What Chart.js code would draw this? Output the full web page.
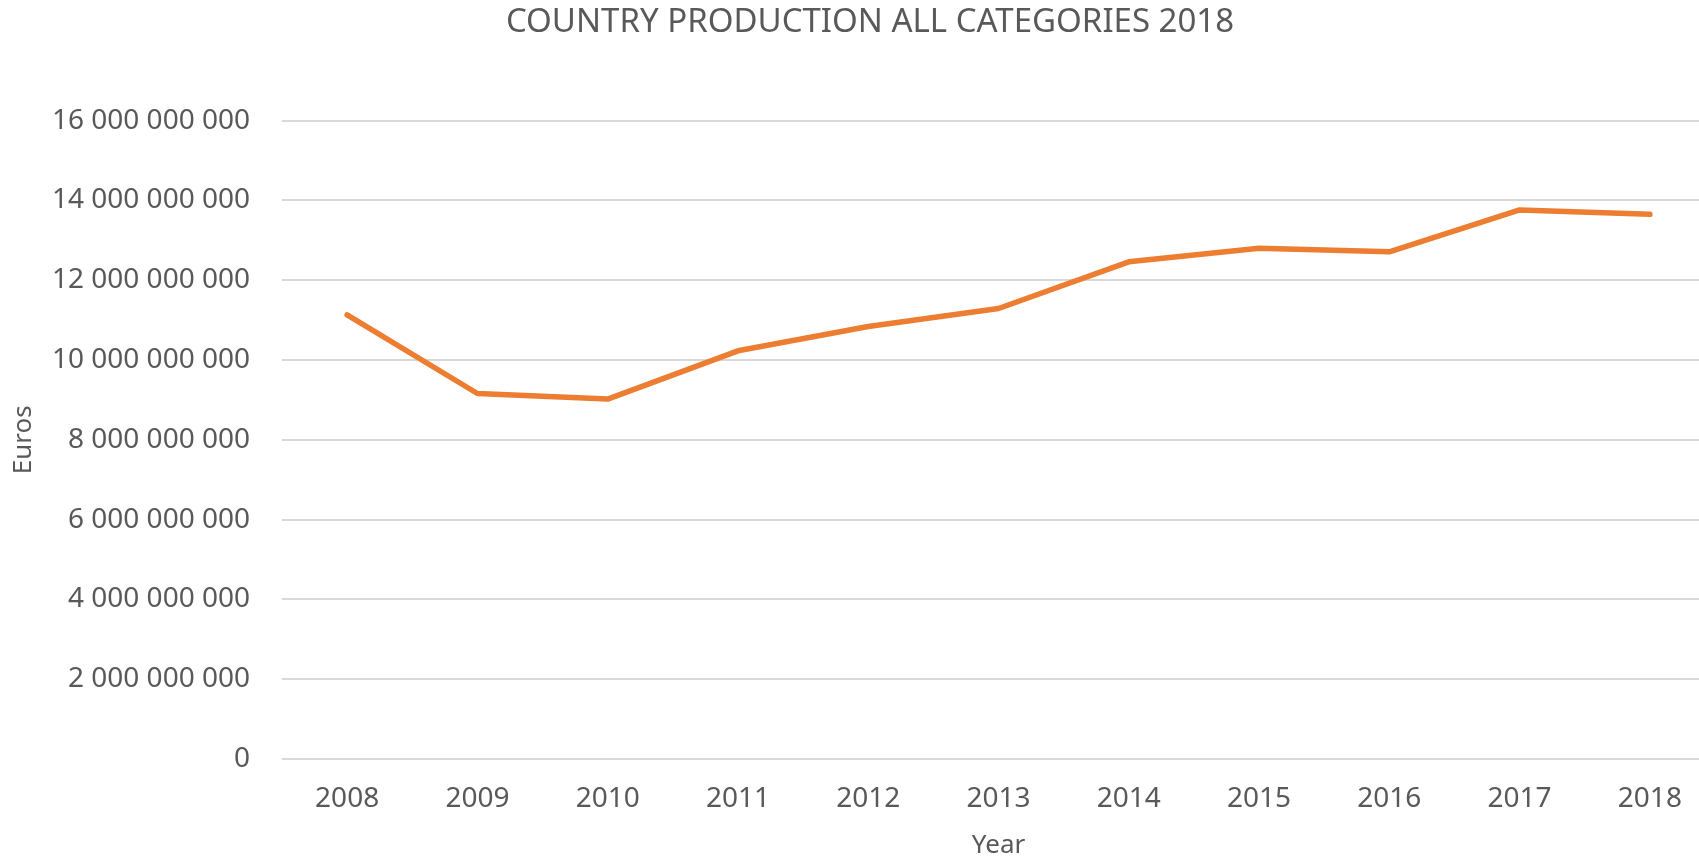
<!DOCTYPE html>
<html>
<head>
<meta charset="utf-8">
<script src="https://cdn.jsdelivr.net/npm/chart.js@4"></script>
<style>
  html, body { margin: 0; padding: 0; background: #fff; overflow: hidden; }
  #wrap { width: 1740px; height: 861px; }
</style>
</head>
<body>
<div id="wrap"><canvas id="prodChart" width="1740" height="861"></canvas></div>
<script>
const years = ['2008', '2009', '2010', '2011', '2012', '2013', '2014', '2015', '2016', '2017', '2018'];
const production = [11130000000, 9160000000, 9020000000, 10230000000, 10840000000, 11290000000,
    12460000000, 12800000000, 12710000000, 13760000000, 13650000000];
const yTicks = [0, 2000000000, 4000000000, 6000000000, 8000000000, 10000000000,
    12000000000, 14000000000, 16000000000];

const textColor = '#595959';
const gridColor = '#d9d9d9';

function spaced(v) {
    return String(v).replace(/\B(?=(\d{3})+(?!\d))/g, ' ');
}

const ctx = document.getElementById('prodChart').getContext('2d');
new Chart(ctx, {
    type: 'line',
    data: {
        labels: years,
        datasets: [{
            label: 'Production',
            data: production,
            borderColor: '#ed7d31',
            borderWidth: 5.5,
            borderCapStyle: 'round',
            borderJoinStyle: 'round',
            pointRadius: 0,
            fill: false,
            tension: 0
        }]
    },
    options: {
        responsive: false,
        animation: false,
        layout: { padding: 0 },
        plugins: {
            legend: { display: false },
            tooltip: { enabled: false },
            title: {
                display: true,
                text: 'COUNTRY PRODUCTION ALL CATEGORIES 2018',
                color: textColor,
                font: { family: 'Noto Sans', size: 33, weight: 'normal' },
                padding: { top: 3, bottom: 78 }
            }
        },
        scales: {
            x: {
                offset: true,
                grid: { display: false, drawTicks: false },
                border: { display: false },
                ticks: {
                    color: textColor,
                    font: { family: 'Noto Sans', size: 28 },
                    padding: 23,
                    maxRotation: 0
                },
                title: {
                    display: true,
                    text: 'Year',
                    color: textColor,
                    font: { family: 'Noto Sans', size: 26 },
                    padding: { top: 0, bottom: 0 }
                },
                afterFit: scale => { scale.height = 102; }
            },
            y: {
                min: 0,
                max: 16000000000,
                afterBuildTicks: scale => { scale.ticks = yTicks.map(v => ({ value: v })); },
                grid: { color: gridColor, lineWidth: 2, drawTicks: false },
                border: { display: false },
                ticks: {
                    color: textColor,
                    font: { family: 'Noto Sans', size: 28 },
                    padding: 32,
                    callback: v => spaced(v)
                },
                title: {
                    display: true,
                    text: 'Euros',
                    color: textColor,
                    font: { family: 'Noto Sans', size: 26 },
                    padding: { top: 8, bottom: 12 }
                },
                afterFit: scale => { scale.width = 282; }
            },
            yRight: {
                position: 'right',
                display: true,
                grid: { display: false, drawTicks: false },
                border: { display: false },
                ticks: { display: false },
                afterFit: scale => { scale.width = 25; }
            }
        }
    }
});
</script>
</body>
</html>
